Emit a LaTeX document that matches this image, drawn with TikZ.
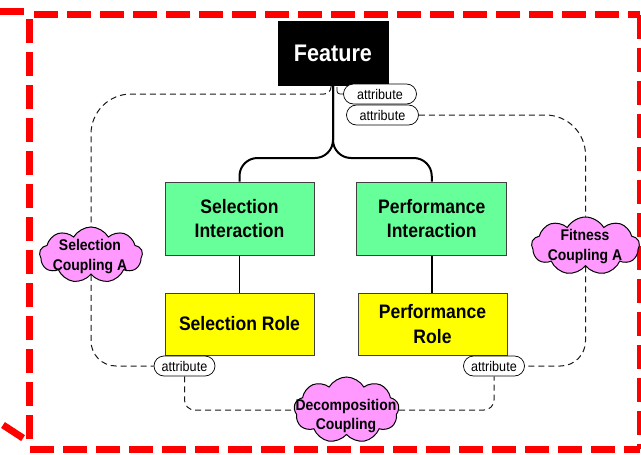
\documentclass[tikz,border=0pt]{standalone}
\usepackage{fontspec}
\setmainfont{Liberation Sans}[FakeStretch=0.9]
\usetikzlibrary{shapes.symbols,shapes.misc,backgrounds}
\definecolor{frameRed}{RGB}{255,0,0}
\definecolor{boxGreen}{RGB}{102,255,153}
\definecolor{boxYellow}{RGB}{255,255,0}
\definecolor{cloudPink}{RGB}{255,153,255}
\begin{document}
\begin{tikzpicture}[x=1pt,y=-1pt,
  redframe/.style={draw=frameRed, line width=7pt, dash pattern=on 24pt off 9pt},
  mainbox/.style={rectangle, draw=black!75, line width=0.8pt, font=\bfseries\fontsize{19.5}{24.5}\selectfont, align=center, inner sep=0pt},
  featurebox/.style={rectangle, fill=black, draw=black, text=white, font=\bfseries\fontsize{24}{28}\selectfont, minimum width=110pt, minimum height=64pt, inner sep=0pt},
  pill/.style={rounded rectangle, draw=black, line width=0.7pt, fill=white, font=\fontsize{14}{16}\selectfont, minimum height=20pt, inner sep=0pt},
  cloudsh/.style={cloud, cloud puffs=9, cloud puff arc=120, cloud ignores aspect, draw=black, line width=1pt, fill=cloudPink, inner sep=0pt},
  cloudtxt/.style={font=\bfseries\fontsize{15.5}{20}\selectfont, align=center, inner sep=0pt},
  couple/.style={draw=black!90, line width=1pt, dash pattern=on 6pt off 4pt},
  stem/.style={draw=black, line width=2pt},
  link/.style={draw=black, line width=1.5pt}]
\useasboundingbox (0,0) rectangle (641,455);

% red frame
\draw[redframe] (0,11) -- (32,11);
\draw[redframe] (34,14) -- (640,14);
\draw[redframe] (640,15) -- (640,449);
\draw[redframe] (30,449) -- (640,449);
\draw[redframe] (29.5,19) -- (29.5,445);
\draw[redframe] (3,425) -- (26,440);

% nodes
\node[featurebox] (feature) at (333,53) {Feature};
\node[mainbox, fill=boxGreen, minimum width=149pt, minimum height=73pt] (sint) at (239.5,218.5) {Selection\\Interaction};
\node[mainbox, fill=boxGreen, minimum width=150pt, minimum height=73pt] (pint) at (431.75,218.5) {Performance\\Interaction};
\node[mainbox, fill=boxYellow, minimum width=149pt, minimum height=62pt] (srole) at (239.5,324) {Selection Role};
\node[mainbox, fill=boxYellow, minimum width=149pt, minimum height=62pt] (prole) at (432.5,324) {Performance\\Role};

\node[pill, minimum width=73pt] (attr1) at (380,94) {attribute};
\node[pill, minimum width=72pt] (attr2) at (382.5,115) {attribute};
\node[pill, minimum width=61pt] (attr3) at (184.5,366) {attribute};
\node[pill, minimum width=61pt] (attr4) at (494,366) {attribute};

\node[cloudsh, minimum width=103pt, minimum height=56pt] (selc) at (91,255) {};
\node[cloudtxt] (selct) at (90,257) {Selection\\Coupling A};
\node[cloudsh, minimum width=108pt, minimum height=58pt] (fitc) at (585.5,246) {};
\node[cloudtxt] (fitct) at (585,247) {Fitness\\Coupling A};
\node[cloudsh, minimum width=105pt, minimum height=66pt] (decc) at (346.5,410) {};
\node[cloudtxt, font=\bfseries\fontsize{15.5}{19}\selectfont] (decct) at (346,416) {Decomposition\\Coupling};

\begin{scope}[on background layer]
% tree connectors
\draw[stem] (feature.south) [rounded corners=18] -- (333,158) -| (sint.north);
\draw[stem] (feature.south) [rounded corners=18] -- (333,158) -| (pint.north);
\draw[link] (sint.south) -- (srole.north);
\draw[link] (pint.south) -- (pint.south |- prole.north);
\draw[black, line width=0.7pt] (337,87) [rounded corners=3] |- (attr1.west);

% coupling dashed lines
\draw[couple] (331,86) [rounded corners=7] |- (200,94) [rounded corners=40] -| (selc.north);
\draw[couple] (selc.south) [rounded corners=25] |- (attr3.west);
\draw[couple] (attr2.east) [rounded corners=40] -| (fitc.north);
\draw[couple] (fitc.south) [rounded corners=25] |- (attr4.east);
\draw[couple] (attr3.south) [rounded corners=10] |- (decc.west);
\draw[couple] (decc.east) [rounded corners=10] -| (attr4.south);
\end{scope}
\end{tikzpicture}
\end{document}
